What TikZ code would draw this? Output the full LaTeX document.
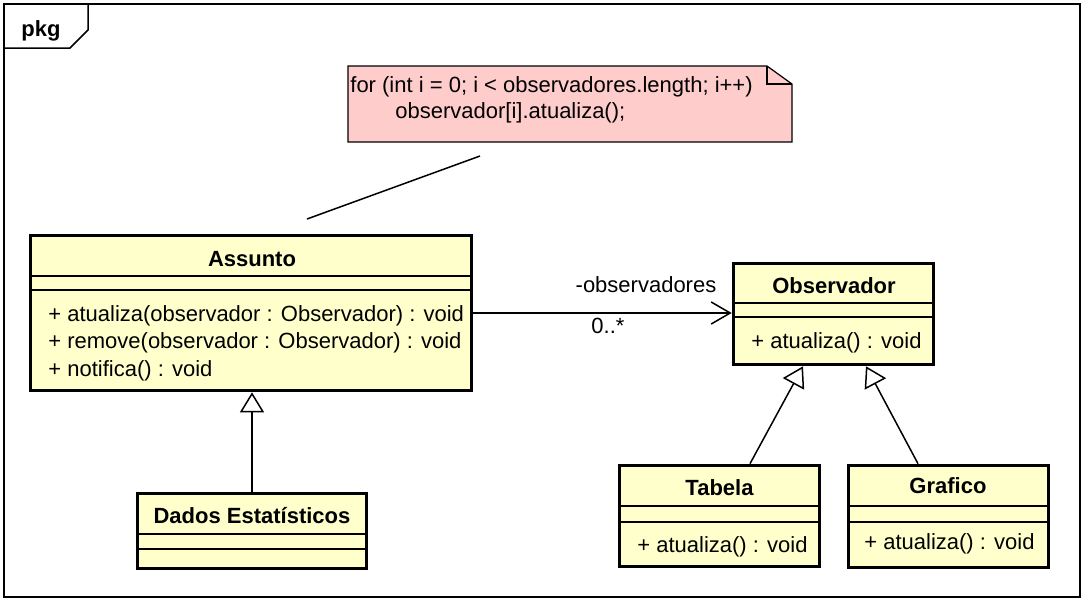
\documentclass[tikz,border=0pt]{standalone}
\usepackage{fontspec}
\setmainfont{Liberation Sans}
\usepackage{tikz}
\usetikzlibrary{arrows.meta}
\definecolor{classfill}{HTML}{FFFFCC}
\definecolor{notefill}{HTML}{FFCCCC}

\begin{document}
\begin{tikzpicture}[x=0.5pt,y=-0.5pt,
  every node/.style={font=\fontsize{11}{13}\selectfont},
  classbox/.style={draw=black, line width=1.8pt, fill=classfill},
  classname/.style={anchor=base, inner sep=0pt, font=\fontsize{11}{13}\selectfont\bfseries},
  member/.style={anchor=base west, inner sep=0pt},
  rolename/.style={anchor=base, inner sep=0pt},
  divider/.style={line width=0.6pt},
  gen/.style={line width=0.75pt, -{Triangle[open, length=10pt, width=12pt]}},
  assoc/.style={line width=0.75pt, -{Straight Barb[length=9.5pt, width=11pt]}}]
\useasboundingbox (0,0) rectangle (1084,601);

\draw[line width=1pt] (4,4) rectangle (1080,597);
\draw[line width=0.75pt] (4,48) -- (70,48) -- (88,30) -- (88,4);
\node[classname] (pkg) at (41,36) {pkg};

\draw[line width=0.6pt, fill=notefill] (348,66) -- (767,66) -- (792,84) -- (792,142) -- (348,142) -- cycle;
\draw[line width=0.6pt] (767,66) -- (767,84) -- (792,84);
\node[member] (nota1) at (350,92) {for (int i = 0; i < observadores.length; i++)};
\node[member] (nota2) at (395,118) {observador[i].atualiza();};
\coordinate (notaP) at (480,156);
\coordinate (assuntoP) at (307,219);
\draw[line width=0.75pt] (notaP) -- (assuntoP);

\node[classbox, minimum width=220.5pt, minimum height=77.5pt] (assunto) at (251,313) {};
\draw[divider] (30,276) -- (472,276);
\draw[divider] (30,290) -- (472,290);
\node[classname] (assuntoN) at (252,266) {Assunto};
\node[member] (atualizaA) at (48,321) {+ atualiza(observador : Observador) : void};
\node[member] (removeA) at (48,348) {+ remove(observador : Observador) : void};
\node[member] (notificaA) at (48,376) {+ notifica() : void};

\node[classbox, minimum width=100pt, minimum height=50.5pt] (observador) at (833.5,314) {};
\draw[divider] (733,303) -- (934,303);
\draw[divider] (733,317) -- (934,317);
\node[classname] (observadorN) at (834,293) {Observador};
\node[member] (atualizaO) at (751,348) {+ atualiza() : void};

\node[classbox, minimum width=100pt, minimum height=50.5pt] (tabela) at (719.5,516) {};
\draw[divider] (619,506) -- (820,506);
\draw[divider] (619,522) -- (820,522);
\node[classname] (tabelaN) at (719.5,495) {Tabela};
\node[member] (atualizaT) at (637,552) {+ atualiza() : void};

\node[classbox, minimum width=100pt, minimum height=51pt] (grafico) at (948.5,516.5) {};
\draw[divider] (848,506) -- (1049,506);
\draw[divider] (848,522) -- (1049,522);
\node[classname] (graficoN) at (948,493) {Grafico};
\node[member] (atualizaG) at (864,549) {+ atualiza() : void};

\node[classbox, minimum width=114.5pt, minimum height=37.5pt] (dados) at (252,531) {};
\draw[divider] (137,534) -- (367,534);
\draw[divider] (137,549) -- (367,549);
\node[classname] (dadosN) at (252,523) {Dados Estatísticos};

\draw[assoc] (assunto.east) -- (assunto.east -| observador.west);
\node[rolename] (papel) at (646,292) {-observadores};
\node[rolename] (mult) at (608,333) {0..*};

\draw[gen] (dados.north) -- (dados.north |- assunto.south);
\draw[gen] ([xshift=15.25pt]tabela.north) -- ([xshift=-15.25pt]observador.south);
\draw[gen] ([xshift=-15.25pt]grafico.north) -- ([xshift=16.25pt]observador.south);
\end{tikzpicture}
\end{document}
